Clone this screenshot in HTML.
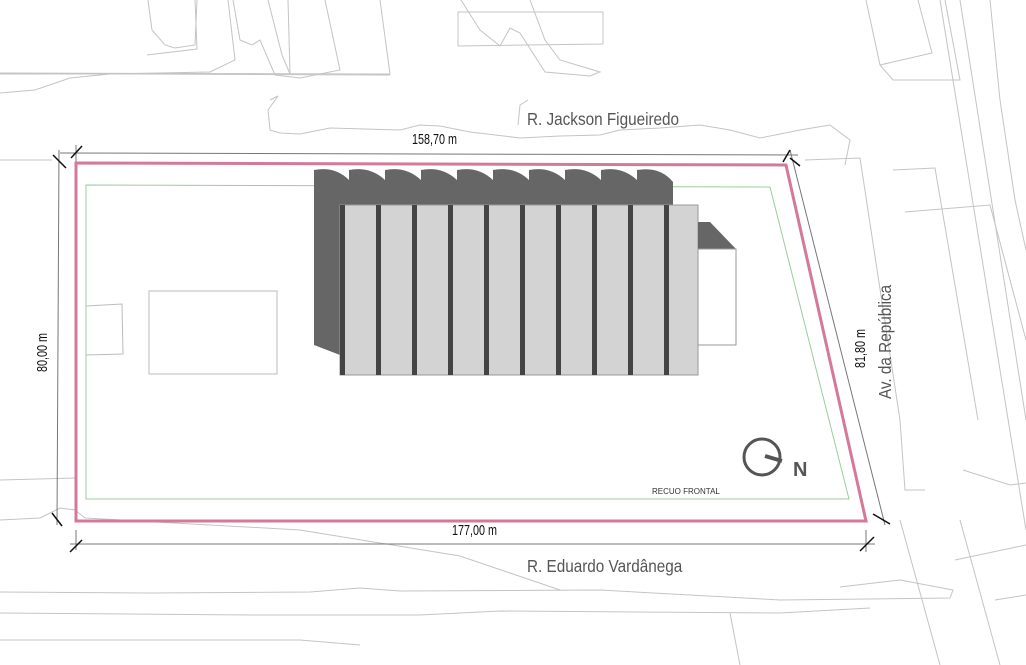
<!DOCTYPE html>
<html><head><meta charset="utf-8"><style>
html,body{margin:0;padding:0;background:#fff;}
svg{display:block;}
text{font-family:"Liberation Sans",sans-serif;}
</style></head><body>
<svg width="1026" height="665" viewBox="0 0 1026 665" xmlns="http://www.w3.org/2000/svg">
<g fill="none" stroke="#c4c4c4" stroke-width="1">
<path d="M0,93 L35,90 L70,78 L110,74 L210,72 L235,60 L228,0"/>
<path d="M0,74 L200,74"/>
<path d="M148,0 L152,30 L165,45 L175,48 L195,45 L197,0"/>
<path d="M147,55 L197,49 L195,0"/>
<path d="M136,74 L390,75"/>
<path d="M233,0 L240,40 L252,45 L260,40 L275,75 L300,78 L340,70 L325,0"/>
<path d="M0,73 L390,74 L380,0"/>
<path d="M458,12 L603,12 L603,44 L458,46 Z"/>
<path d="M461,0 L480,30 L500,46 L510,28 L520,33 L545,72 L590,76 L600,72 L560,60 L545,40 L530,0"/>
<path d="M268,0 L282,55 L290,74"/>
<path d="M288,0 L290,74"/>
<path d="M866,0 L880,65 L932,53 L918,0"/>
<path d="M880,65 L893,80 L960,80 L945,0"/>
<path d="M990,0 L1000,100 L1015,200 L1026,250"/>
<path d="M940,0 L1026,530"/>
<path d="M960,0 L1026,420"/>
<path d="M0,160 L52,160"/>
<path d="M0,480 L76,478"/>
<path d="M0,520 L40,518 L60,508 L75,510 L85,518 L300,530 L460,556 L560,590"/>
<path d="M270,100 L278,96 L268,110 L270,130 L280,133 L300,134 L330,128 L400,130 L420,125 L440,126 L470,132 L520,138 L560,136 L600,135 L620,130 L660,128 L700,125 L730,130 L760,138 L800,130 L830,125 L850,140 L845,165"/>
<path d="M528,100 L520,105 L518,125"/>
<path d="M805,160 L860,158 L900,420 L905,490 L925,490"/>
<path d="M893,170 L935,168 L978,420"/>
<path d="M905,212 L990,205 L1026,340"/>
<path d="M963,470 L1010,485 L1026,483"/>
<path d="M0,592 L150,593 L310,592 L360,588 L400,591 L600,590 L780,600 L950,598 L953,590 L900,580 L840,587"/>
<path d="M0,613 L250,615 L420,615 L500,611 L780,613 L870,608"/>
<path d="M0,640 L300,640 L360,645"/>
<path d="M730,613 L740,665"/>
<path d="M900,520 L940,665"/>
<path d="M960,520 L1000,665"/>
<path d="M955,560 L1026,545"/>
<path d="M995,600 L1026,595"/>
</g>
<g stroke="#777" stroke-width="1" fill="none">
<line x1="60" y1="153" x2="798" y2="155"/>
<line x1="59" y1="150" x2="57" y2="525"/>
<line x1="70" y1="544" x2="875" y2="544"/>
<line x1="790" y1="150" x2="885" y2="525"/>
<line x1="76" y1="145" x2="76" y2="165"/>
<line x1="76" y1="530" x2="76" y2="550"/>
<line x1="866" y1="530" x2="866" y2="552"/>
</g>
<g stroke="#111" stroke-width="1.5">
<line x1="53" y1="155" x2="66" y2="168"/>
<line x1="71" y1="158" x2="82" y2="146"/>
<line x1="783" y1="162" x2="790" y2="150"/>
<line x1="790" y1="158" x2="800" y2="166"/>
<line x1="52" y1="513" x2="62" y2="526"/>
<line x1="70" y1="552" x2="82" y2="540"/>
<line x1="860" y1="551" x2="874" y2="537"/>
<line x1="873" y1="514" x2="890" y2="524"/>
</g>
<polygon points="86,185 770,187 849,499 86,499" fill="none" stroke="#9ccc9c" stroke-width="1"/>
<polygon points="76,163 786,165 866,521 76,521" fill="none" stroke="#d47a99" stroke-width="3"/>
<rect x="149" y="291" width="128" height="83" fill="none" stroke="#bbb"/>
<path d="M86,306 L122,304 L123,354 L86,355" fill="none" stroke="#bbb"/>
<g>
<path d="M314,170 Q335,166 349,180 L349,170 Q370,166 385,180 L385,170 Q406,166 421,180 L421,170 Q442,166 457,180 L457,170 Q478,166 493,180 L493,170 Q514,166 529,180 L529,170 Q550,166 565,180 L565,170 Q586,166 601,180 L601,170 Q622,166 637,180 L637,170 Q660,166 673,182 L673,205 L340,205 L340,355 L314,345 Z" fill="#666"/>
<rect x="340" y="205" width="358" height="170" fill="#d3d3d3" stroke="#999"/>
<g fill="#444">
<rect x="340" y="205" width="5" height="170"/>
<rect x="376" y="205" width="5" height="170"/>
<rect x="412" y="205" width="5" height="170"/>
<rect x="448" y="205" width="5" height="170"/>
<rect x="484" y="205" width="5" height="170"/>
<rect x="520" y="205" width="5" height="170"/>
<rect x="556" y="205" width="5" height="170"/>
<rect x="592" y="205" width="5" height="170"/>
<rect x="628" y="205" width="5" height="170"/>
<rect x="664" y="205" width="5" height="170"/>
</g>
<polygon points="698,222 710,222 736,249 698,249" fill="#666"/>
<rect x="698" y="249" width="38" height="96" fill="#fff" stroke="#999"/>
</g>
<circle cx="762" cy="457" r="18" fill="none" stroke="#555" stroke-width="3"/>
<line x1="765" y1="456" x2="782" y2="461" stroke="#555" stroke-width="4"/>
<text x="793" y="476" font-size="20" font-weight="bold" fill="#555">N</text>
<text x="652" y="494" font-size="8" fill="#333">RECUO FRONTAL</text>
<text x="527" y="125" font-size="18" fill="#555" transform="translate(527,125) scale(0.85,1) translate(-527,-125)">R. Jackson Figueiredo</text>
<text x="527" y="572" font-size="18" fill="#555" transform="translate(527,572) scale(0.85,1) translate(-527,-572)">R. Eduardo Vardânega</text>
<text x="412" y="144" font-size="15" fill="#111" transform="translate(412,144) scale(0.72,1) translate(-412,-144)">158,70 m</text>
<text x="452" y="535" font-size="15" fill="#111" transform="translate(452,535) scale(0.72,1) translate(-452,-535)">177,00 m</text>
<text font-size="15" fill="#111" transform="translate(47,372) rotate(-90) scale(0.72,1)">80,00 m</text>
<text font-size="15" fill="#111" transform="translate(865,368) rotate(-90) scale(0.72,1)">81,80 m</text>
<text font-size="18" fill="#555" transform="translate(891,399) rotate(-90) scale(0.85,1)">Av. da República</text>
</svg>
</body></html>
